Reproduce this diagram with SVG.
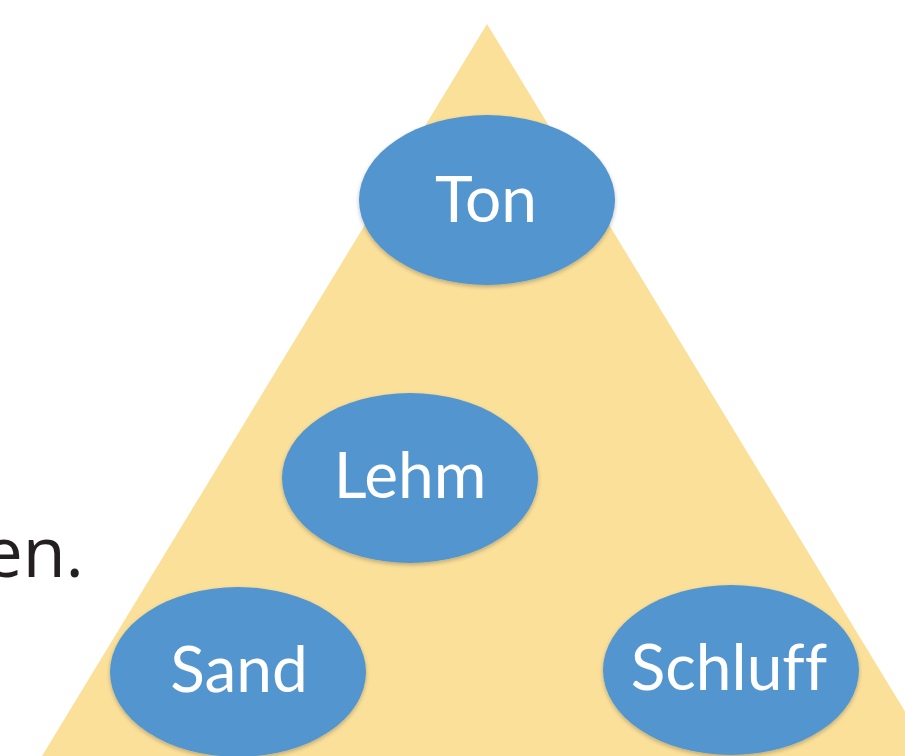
<svg xmlns="http://www.w3.org/2000/svg" width="905" height="756" viewBox="0 0 905 756">
<defs>
<style>
.n{fill:#5295cf;filter:url(#sh)}
.t{fill:#ffffff;font-family:Lato,"Open Sans",sans-serif;font-size:64px;text-anchor:middle;font-variant-ligatures:none;font-feature-settings:"liga" 0}
</style>
<filter id="sh" x="-10%" y="-10%" width="120%" height="125%">
<feGaussianBlur in="SourceAlpha" stdDeviation="2"/>
<feOffset dy="2"/>
<feComponentTransfer><feFuncA type="linear" slope="0.25"/></feComponentTransfer>
<feMerge><feMergeNode/><feMergeNode in="SourceGraphic"/></feMerge>
</filter>
</defs>
<rect width="905" height="756" fill="#ffffff"/>
<polygon points="487,24 42,756 932,756" fill="#fbe09a"/>
<text x="84" y="577" font-family="'Open Sans',sans-serif" font-size="70" fill="#231f20" text-anchor="end">en.</text>
<g id="connectors"></g>
<g id="ton"><ellipse class="n" cx="487" cy="200" rx="128" ry="85"/><text class="t" x="486" y="222">Ton</text></g>
<g id="lehm"><ellipse class="n" cx="410" cy="478" rx="128" ry="85"/><text class="t" x="410" y="498">Lehm</text></g>
<g id="sand"><ellipse class="n" cx="238" cy="672" rx="128" ry="85"/><text class="t" x="239" y="692">Sand</text></g>
<g id="schluff"><ellipse class="n" cx="731" cy="670" rx="128" ry="85"/><text class="t" x="729" y="690">Schluff</text></g>
</svg>
